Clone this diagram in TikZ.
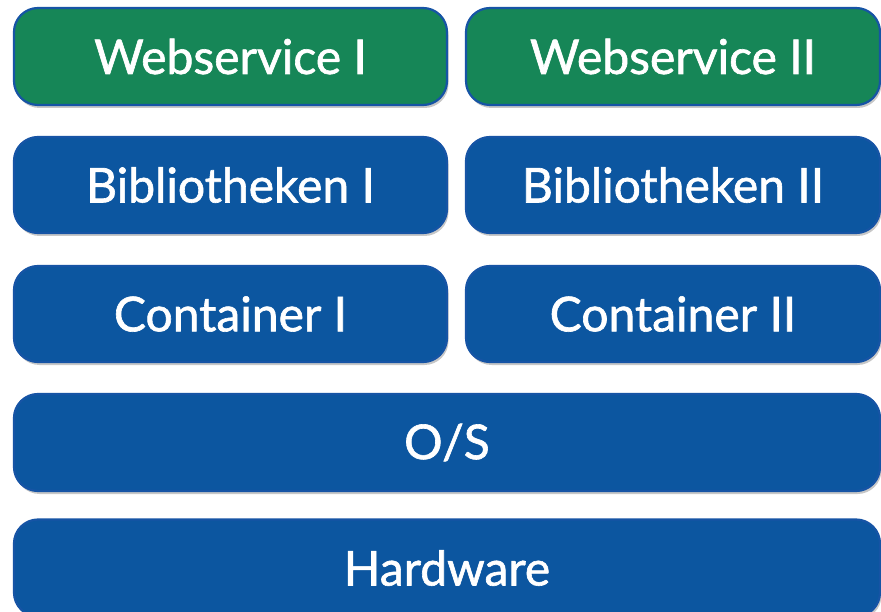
\documentclass[tikz,border=0pt]{standalone}
\usepackage{fontspec}
\setmainfont{Lato}[FakeBold=1.3]
\usetikzlibrary{shadows}
\definecolor{boxgreen}{RGB}{22,134,87}
\definecolor{boxblue}{RGB}{12,86,160}
\definecolor{edgeblue}{RGB}{22,84,165}
\tikzset{
  layer/.style={draw=edgeblue, line width=2.2pt, fill=boxblue, rounded corners=24pt,
    text=white, font=\fontsize{48}{54}\selectfont, inner sep=0pt,
    drop shadow={shadow xshift=1.5pt, shadow yshift=-3pt, opacity=0.22, fill=black}},
  greenlayer/.style={layer, fill=boxgreen},
}
\begin{document}
\begin{tikzpicture}[x=1pt,y=-1pt]
\useasboundingbox (0,0) rectangle (881,612);
\clip (0,0) rectangle (881,612);
\fill[white] (0,0) rectangle (881,612);
\node[greenlayer, minimum width=433pt, minimum height=97pt] (ws1) at (230.5,56.5) {Webservice I};
\node[greenlayer, minimum width=414pt, minimum height=97pt] (ws2) at (673,56.5) {Webservice II};
\node[layer, minimum width=433pt, minimum height=96pt] (bib1) at (230.5,185) {Bibliotheken I};
\node[layer, minimum width=414pt, minimum height=96pt] (bib2) at (673,185) {Bibliotheken II};
\node[layer, minimum width=433pt, minimum height=96pt] (con1) at (230.5,314) {Container I};
\node[layer, minimum width=414pt, minimum height=96pt] (con2) at (673,314) {Container II};
\node[layer, minimum width=866pt, minimum height=97pt] (os) at (447,442.5) {O/S};
\node[layer, minimum width=866pt, minimum height=97pt] (hw) at (447,568) {Hardware};
\end{tikzpicture}
\end{document}
